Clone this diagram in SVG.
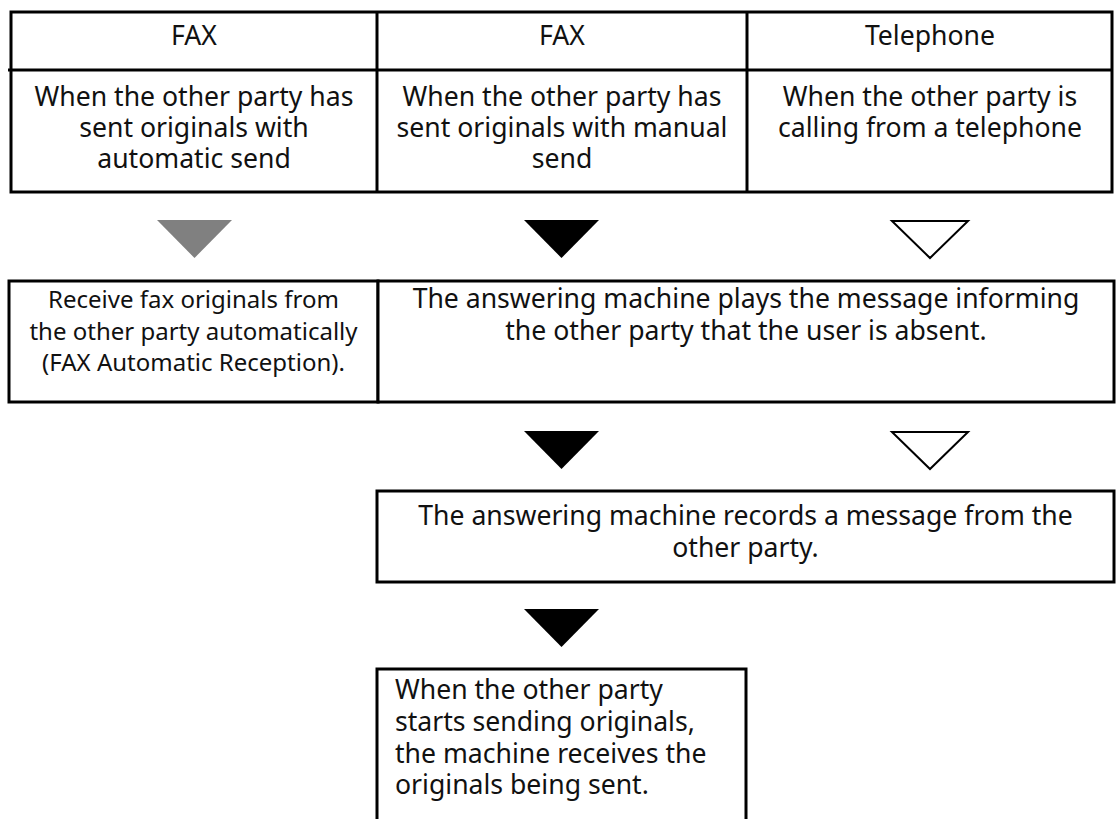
<svg xmlns="http://www.w3.org/2000/svg" width="1118" height="819" viewBox="0 0 1118 819">
<style>
  .box { fill: #ffffff; stroke: #000000; stroke-width: 3; }
  .ln { stroke: #000000; stroke-width: 3; fill: none; }
  .t { font-family: "Noto Sans", "Open Sans", "DejaVu Sans", sans-serif; font-size: 26.6px; fill: #111111; text-anchor: middle; }
  .ts { font-size: 24px; }
  .tl { text-anchor: start; }
  .tri-black { fill: #000000; }
  .tri-gray { fill: #808080; }
  .tri-white { fill: #ffffff; stroke: #000000; stroke-width: 2; stroke-linejoin: miter; }
</style>
<rect width="1118" height="819" fill="#ffffff"/>

<g id="table">
  <rect class="box" x="11" y="12" width="1101" height="180"/>
  <line class="ln" x1="8" y1="70" x2="1113" y2="70"/>
  <line class="ln" x1="377" y1="12" x2="377" y2="192"/>
  <line class="ln" x1="747" y1="12" x2="747" y2="192"/>
  <g id="col-fax-auto">
    <text class="t" x="194" y="45">FAX</text>
    <text class="t" x="194" y="106">When the other party has</text>
    <text class="t" x="194" y="137">sent originals with</text>
    <text class="t" x="194" y="168">automatic send</text>
  </g>
  <g id="col-fax-manual">
    <text class="t" x="562" y="45">FAX</text>
    <text class="t" x="562" y="106">When the other party has</text>
    <text class="t" x="562" y="137">sent originals with manual</text>
    <text class="t" x="562" y="168">send</text>
  </g>
  <g id="col-telephone">
    <text class="t" x="930" y="45">Telephone</text>
    <text class="t" x="930" y="106">When the other party is</text>
    <text class="t" x="930" y="137">calling from a telephone</text>
  </g>
</g>

<g id="connectors">
  <polygon class="tri-gray" points="157,220 232,220 194.5,258"/>
  <polygon class="tri-black" points="524,220 599,220 561.5,258"/>
  <polygon class="tri-white" points="892,221 968,221 930,258"/>
  <polygon class="tri-black" points="524,431 599,431 561.5,469"/>
  <polygon class="tri-white" points="892,432 968,432 930,469"/>
  <polygon class="tri-black" points="524,609 599,609 561.5,647"/>
</g>

<g id="node-auto-reception">
  <rect class="box" x="9" y="281" width="369" height="121"/>
  <text class="t ts" x="193.5" y="308">Receive fax originals from</text>
  <text class="t ts" x="193.5" y="340">the other party automatically</text>
  <text class="t ts" x="193.5" y="371">(FAX Automatic Reception).</text>
</g>

<g id="node-plays-message">
  <rect class="box" x="378" y="281" width="736" height="121"/>
  <text class="t" x="746" y="308">The answering machine plays the message informing</text>
  <text class="t" x="746" y="340">the other party that the user is absent.</text>
</g>

<g id="node-records-message">
  <rect class="box" x="377" y="491" width="737" height="91"/>
  <text class="t" x="745.5" y="525">The answering machine records a message from the</text>
  <text class="t" x="745.5" y="557">other party.</text>
</g>

<g id="node-receives-originals">
  <rect class="box" x="377" y="669" width="369" height="170"/>
  <text class="t tl" x="395" y="699">When the other party</text>
  <text class="t tl" x="395" y="731">starts sending originals,</text>
  <text class="t tl" x="395" y="763">the machine receives the</text>
  <text class="t tl" x="395" y="794">originals being sent.</text>
</g>
</svg>
